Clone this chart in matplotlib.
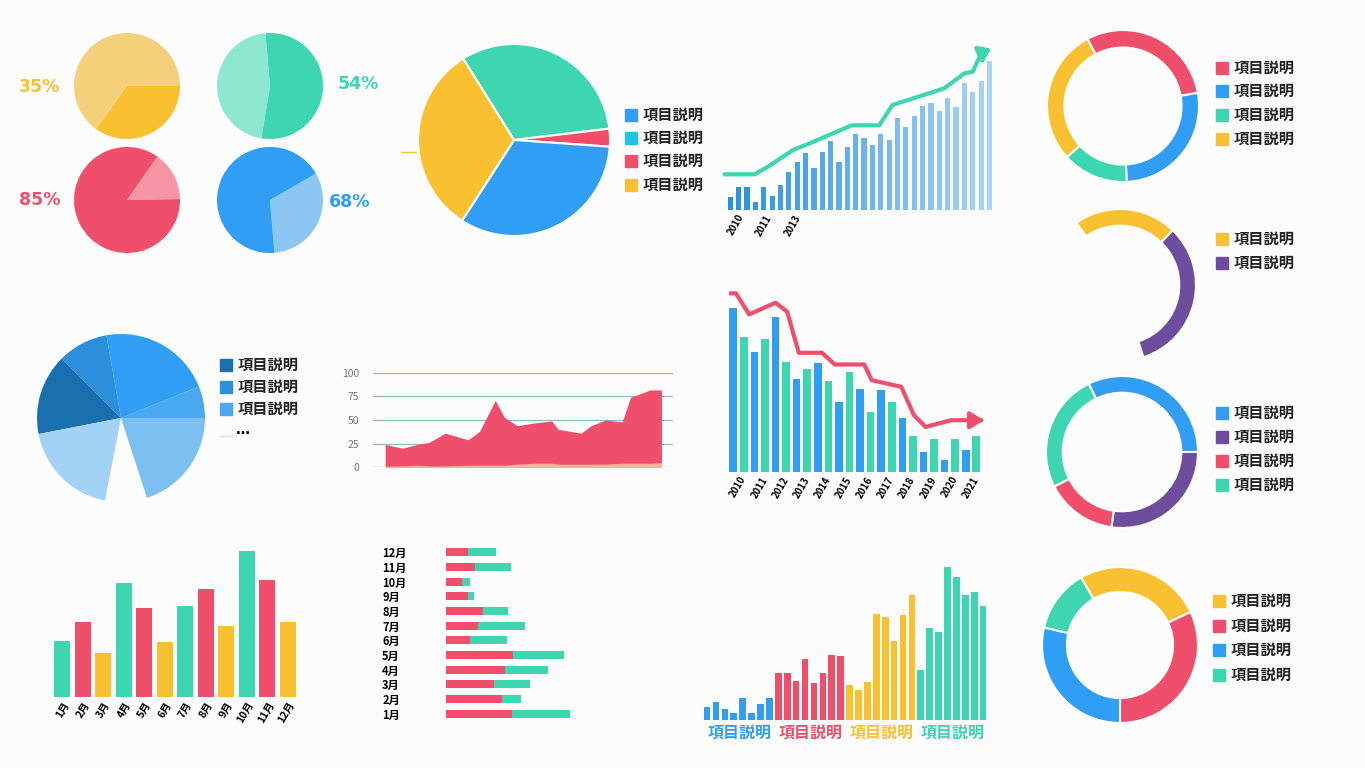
import numpy as np
import matplotlib
matplotlib.use('Agg')
import matplotlib.pyplot as plt
from matplotlib.patches import Rectangle

plt.rcParams['font.family'] = ['Noto Sans CJK JP', 'DejaVu Sans']

W, H = 1365, 768
YEL = '#F9C132'
GRN = '#3DD6B0'
RED = '#EF4F6B'
BLU = '#2F9EF4'
PUR = '#6E4C9E'
CYA = '#22C3E6'
LBL = '項目説明'

# small pies: (value, start angle, dark, light, label)
small_pies = [
    (35, 0, YEL, '#F5D07A', '35%'),
    (54, 95, GRN, '#8EE8D0', '54%'),
    (85, 55, RED, '#F595A5', '85%'),
    (68, 30, BLU, '#8CC7F2', '68%'),
]

big_pie = [32, 3, 33, 32]  # green, red, blue, yellow

top_bars = [38, 70, 70, 23, 70, 43, 75, 113, 145, 170, 126, 173, 207, 145, 190, 228,
            215, 194, 229, 210, 277, 250, 282, 312, 321, 298, 335, 310, 382, 355, 387, 448]
top_line_x = [-0.7, 2.9, 4.5, 7.5, 9.5, 14.5, 17.8, 19.4, 25.6, 28, 29, 30, 31.5]
top_line_y = [107, 107, 130, 180, 200, 254, 254, 315, 365, 410, 415, 470, 488]

mid_bars = [492, 403, 358, 397, 463, 328, 278, 309, 327, 272, 209, 298,
            249, 180, 245, 209, 163, 108, 61, 100, 35, 98, 65, 109]
mid_line_x = [-0.2, 0.25, 1.5, 4.0, 5.1, 6.2, 8.4, 9.6, 12.4, 13.1, 15.9, 17.1, 18.2, 20.6, 23.1, 24.0]
mid_line_y = [535, 535, 472, 507, 480, 357, 357, 322, 322, 275, 255, 170, 135, 155, 155, 155]
years = [str(y) for y in range(2010, 2022)]

area_x = [152, 205, 250, 285, 335, 405, 440, 488, 515, 555, 610, 660, 680, 750, 780, 825, 875, 900, 960, 995]
area_y = [24, 20, 24, 26, 36, 29, 38, 71, 53, 44, 47, 49, 40, 36, 44, 50, 48, 74, 82, 82]
area_low = [1, 1, 2, 1, 1, 2, 2, 2, 2, 3, 4, 4, 3, 3, 3, 3, 4, 4, 4, 5]

months = ['%d月' % m for m in range(1, 13)]
h_red = [162, 139, 117, 144, 164, 59, 78, 92, 55, 39, 72, 54]
h_grn = [144, 45, 90, 108, 126, 91, 116, 60, 13, 20, 88, 68]

month_bars = [155, 208, 122, 315, 246, 153, 252, 298, 196, 403, 324, 206]

blue_pie = [22, 78, 35, 56, 68, 29, 72]  # degrees, last-but-one gap
blue_pie_cols = ['#4AA8F0', BLU, '#2D8FDB', '#1A6FAF', '#A3D2F7', 'none', '#7CC0F2']

grp_vals = [
    [37, 50, 30, 18, 60, 20, 43, 60],
    [128, 128, 107, 168, 103, 130, 178, 177],
    [97, 82, 105, 292, 282, 218, 290, 345],
    [138, 252, 243, 422, 392, 343, 353, 313],
]
grp_cols = [BLU, RED, YEL, GRN]

donuts = [
    # (cx, cy, r, width, values, start, colors)
    (1123, 106, 76, 0.23, [30, 27, 14, 29], 118, [RED, BLU, GRN, YEL]),
    (1120, 285, 76, 0.22, [79, 118, 163], 125, [YEL, PUR, 'none']),
    (1122, 452, 76, 0.22, [116, 98, 55, 91], 116, [BLU, PUR, RED, GRN]),
    (1120, 645, 78, 0.32, [95, 115, 103, 47], 120, [YEL, RED, BLU, GRN]),
]
donut_leg_y = [[68, 91, 115, 139], [239, 263], [413, 437, 461, 485], [601, 626, 650, 675]]

fig = plt.figure(figsize=(W / 100, H / 100), dpi=100, facecolor='#FCFCFC')


def ax_px(x0, y0, w, h):
    ax = fig.add_axes([x0 / W, 1 - (y0 + h) / H, w / W, h / H])
    ax.set_facecolor('none')
    return ax


def fig_text(x, y, s, **kw):
    fig.text(x / W, 1 - y / H, s, **kw)


def legend_px(x, ys, cols):
    for y, c in zip(ys, cols):
        fig.patches.append(Rectangle((x / W, 1 - (y + 6) / H), 12 / W, 12 / H,
                                     transform=fig.transFigure, color=c, figure=fig))
        fig_text(x + 18, y, LBL, fontsize=11, fontweight='bold', va='center', color='#222222')


def draw_pie(cx, cy, r, vals, cols, **kw):
    ax = ax_px(cx - r, cy - r, 2 * r, 2 * r)
    wedges, _ = ax.pie(vals, colors=['white' if c == 'none' else c for c in cols], radius=1, **kw)
    for w, c in zip(wedges, cols):
        if c == 'none':
            w.set_visible(False)
    ax.set_xlim(-1, 1)
    ax.set_ylim(-1, 1)
    ax.axis('off')
    return ax


# small pies
centers = [(127, 86), (270, 86), (127, 200), (270, 200)]
label_pos = [(40, 87), (358, 84), (40, 200), (350, 202)]
for (cx, cy), (lx, ly), (v, start, dark, light, lab) in zip(centers, label_pos, small_pies):
    if lab in ('35%', '54%'):
        vals, cols = [v, 100 - v], [dark, light]
    else:
        vals, cols = [100 - v, v], [light, dark]
    draw_pie(cx, cy, 53, vals, cols, startangle=start, counterclock=False,
             wedgeprops=dict(linewidth=0))
    fig_text(lx, ly, lab, fontsize=12.5, fontweight='bold', color=dark, ha='center',
             va='center', family='DejaVu Sans')

# big pie
draw_pie(514, 140, 96, big_pie, [GRN, RED, BLU, YEL], startangle=122, counterclock=False,
         wedgeprops=dict(linewidth=1.5, edgecolor='white'))
legend_px(625, [115, 138, 161, 185], [BLU, CYA, RED, YEL])
fig.lines.append(plt.Line2D([402 / W, 416 / W], [1 - 152 / H] * 2, color=YEL, lw=1,
                            transform=fig.transFigure))

# top rising bars
ax = ax_px(722, 40, 280, 170)
n = len(top_bars)
cmap = matplotlib.colors.LinearSegmentedColormap.from_list('b', ['#2B8FE0', '#A8D5F6'])
ax.bar(range(n), top_bars, width=0.62, color=[cmap(i / (n - 1)) for i in range(n)])
ax.plot(top_line_x[:-1], top_line_y[:-1], color=GRN, lw=3, solid_capstyle='round')
ax.annotate('', xy=(top_line_x[-1], top_line_y[-1]), xytext=(top_line_x[-2], top_line_y[-2]),
            arrowprops=dict(arrowstyle='-|>,head_width=0.5,head_length=0.7', color=GRN, lw=3))
ax.set_xlim(-1, 32.5)
ax.set_ylim(0, 510)
ax.set_xticks([0.8, 4.2, 7.6])
ax.set_xticklabels(['2010', '2011', '2013'], rotation=60, fontsize=7, fontweight='bold',
                   ha='right', rotation_mode='anchor')
ax.tick_params(length=0, pad=2)
ax.set_yticks([])
for s in ax.spines.values():
    s.set_visible(False)

# falling bars
ax = ax_px(728, 285, 262, 187)
m = len(mid_bars)
ax.bar(range(m), mid_bars, width=0.72, color=[BLU if i % 2 == 0 else GRN for i in range(m)])
ax.plot(mid_line_x[:-1], mid_line_y[:-1], color=RED, lw=3)
ax.annotate('', xy=(mid_line_x[-1], mid_line_y[-1]), xytext=(mid_line_x[-2], mid_line_y[-2]),
            arrowprops=dict(arrowstyle='-|>,head_width=0.5,head_length=0.8', color=RED, lw=3))
ax.set_xlim(-0.5, 24.3)
ax.set_ylim(0, 560)
ax.set_xticks(np.arange(12) * 2 + 0.6)
ax.set_xticklabels(years, rotation=60, fontsize=7, fontweight='bold', ha='right',
                   rotation_mode='anchor')
ax.tick_params(length=0, pad=2)
ax.set_yticks([])
for s in ax.spines.values():
    s.set_visible(False)

# area chart
ax = ax_px(373, 373, 300, 94)
ax.set_xlim(115, 1030)
ax.set_ylim(0, 100)
for v in [0, 25, 50, 75, 100]:
    ax.axhline(v, color='#8FB9CC', lw=0.9, zorder=0)
ax.fill_between(area_x, 0, area_y, color=RED, lw=0)
ax.fill_between(area_x, 0, area_low, color='#F6B49A', lw=0)
ax.set_yticks([0, 25, 50, 75, 100])
ax.tick_params(length=0, labelsize=7.5, labelcolor='#777777', pad=10)
ax.set_xticks([])
for s in ax.spines.values():
    s.set_visible(False)

# horizontal stacked bars
ax = ax_px(446, 545, 130, 176)
ax.barh(range(12), h_red, height=0.55, color=RED)
ax.barh(range(12), h_grn, left=h_red, height=0.55, color=GRN)
ax.set_xlim(0, 320)
ax.set_ylim(-0.5, 11.5)
ax.set_yticks(range(12))
ax.set_yticklabels(months, fontsize=8, fontweight='bold')
for t in ax.get_yticklabels():
    t.set_ha('left')
ax.tick_params(length=0, pad=46)
ax.set_xticks([])
for s in ax.spines.values():
    s.set_visible(False)

# month bars
ax = ax_px(50, 545, 250, 152)
ax.bar(range(12), month_bars, width=0.8, color=[GRN, RED, YEL] * 4)
ax.set_xlim(-0.6, 11.6)
ax.set_ylim(0, 420)
ax.set_xticks(range(12))
ax.set_xticklabels(months, rotation=60, fontsize=7.5, fontweight='bold', ha='right',
                   rotation_mode='anchor')
ax.tick_params(length=0, pad=2)
ax.set_yticks([])
for s in ax.spines.values():
    s.set_visible(False)

# blue pie
draw_pie(121, 418, 84, blue_pie, blue_pie_cols, startangle=0, counterclock=True,
         wedgeprops=dict(linewidth=0))
legend_px(220, [365, 387, 409], ['#1A6FAF', '#2D8FDB', '#4AA8F0'])
fig.lines.append(plt.Line2D([220 / W, 232 / W], [1 - 436 / H] * 2, color='#C8E2F5', lw=1,
                            transform=fig.transFigure))
fig_text(236, 430, '…', fontsize=10, fontweight='bold', va='center', family='DejaVu Sans')

# grouped colored bars
ax = ax_px(700, 560, 292, 160)
xs = 0
for vals, c in zip(grp_vals, grp_cols):
    ax.bar(np.arange(len(vals)) + xs, vals, width=0.75, color=c)
    xs += len(vals)
ax.set_xlim(-0.8, 32)
ax.set_ylim(0, 440)
ax.axis('off')
for i, c in enumerate(grp_cols):
    fig_text(740 + i * 71, 734, LBL, fontsize=11.5, fontweight='bold', color=c,
             ha='center', va='center')

# donuts
for (cx, cy, r, wd, vals, start, cols), ys in zip(donuts, donut_leg_y):
    draw_pie(cx, cy, r, vals, cols, startangle=start, counterclock=False,
             wedgeprops=dict(width=wd, linewidth=1.5, edgecolor='white'))
    legend_px(1216 if cy < 600 else 1213, ys, [c for c in cols if c != 'none'])

fig.savefig('out.png', dpi=100, facecolor=fig.get_facecolor())
